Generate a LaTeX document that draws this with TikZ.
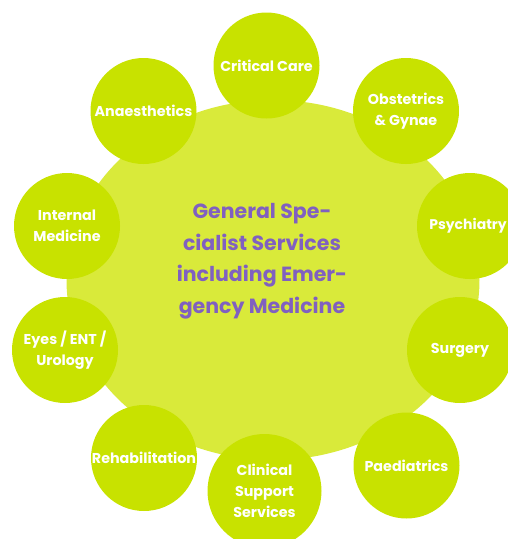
\documentclass[tikz,border=0pt]{standalone}
\usepackage{fontspec}
\setmainfont{Poppins}
\usetikzlibrary{shapes.geometric}
\definecolor{hubfill}{RGB}{217,234,58}
\definecolor{satfill}{RGB}{200,226,0}
\definecolor{hubtextc}{RGB}{128,96,192}
\tikzset{
  sat/.style={circle, fill=satfill, minimum size=106pt, inner sep=0pt, text=white, align=center,
    font=\bfseries\fontsize{14.3}{21}\selectfont},
  hubshape/.style={ellipse, fill=hubfill, minimum width=413pt, minimum height=360pt, inner sep=0pt},
  hublabel/.style={text=hubtextc, align=center, font=\bfseries\fontsize{20.5}{31.5}\selectfont}
}
\begin{document}
\begin{tikzpicture}[x=1pt,y=-1pt]
\useasboundingbox (0,0) rectangle (508,539);
\clip (0,0) rectangle (508,539);
\node[hubshape] (hub) at (273,280) {};
\node[hublabel] (hubtext) at (262,261) {General Spe-\\cialist Services\\including Emer-\\gency Medicine};
\node[sat] (cc) at (266.5,65.5) {Critical Care};
\node[sat] (an) at (143.5,111) {Anaesthetics};
\node[sat] (ob) at (406,111) {Obstetrics\\\& Gynae};
\node[sat] (im) at (67,226) {Internal\\Medicine};
\node[sat] (ps) at (470,226) {};
\node[text=white, font=\bfseries\fontsize{14}{21}\selectfont, anchor=east, inner sep=0pt] (pst) at (507,226) {Psychiatry};
\node[sat] (ey) at (65,350) {Eyes / ENT /\\Urology};
\node[sat] (su) at (460,350) {Surgery};
\node[sat] (re) at (144,458) {Rehabilitation};
\node[sat, minimum size=114pt] (cs) at (264.5,491) {Clinical\\Support\\Services};
\node[sat] (pa) at (406.5,465.5) {Paediatrics};
\end{tikzpicture}
\end{document}
